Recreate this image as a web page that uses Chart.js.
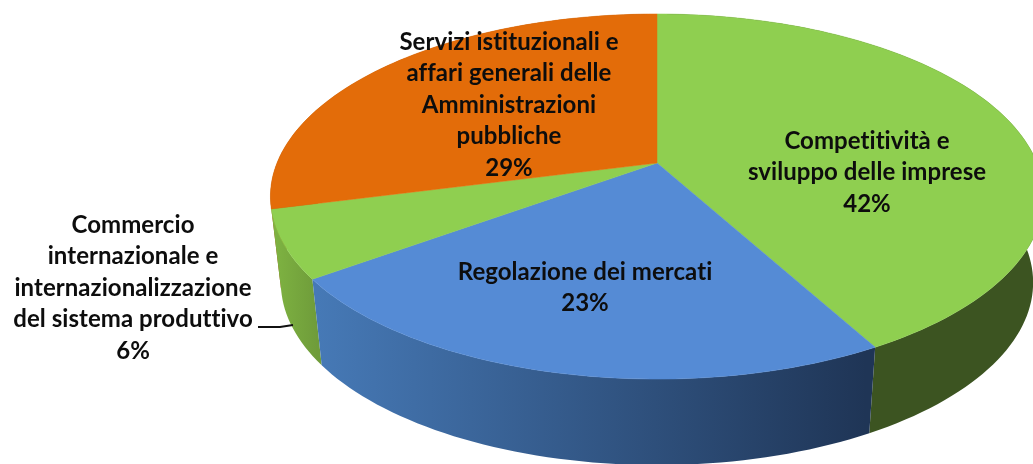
<!DOCTYPE html>
<html><head><meta charset="utf-8">
<style>html,body{margin:0;padding:0;background:#fff;overflow:hidden}canvas{display:block}</style>
<script src="https://cdn.jsdelivr.net/npm/chart.js@4/dist/chart.umd.min.js"></script>
</head><body><canvas id="c" width="1033" height="464"></canvas>
<script>
const categories = [
  "Competitività e sviluppo delle imprese",
  "Regolazione dei mercati",
  "Commercio internazionale e internazionalizzazione del sistema produttivo",
  "Servizi istituzionali e affari generali delle Amministrazioni pubbliche"
];
const values = [42, 23, 6, 29];
const labelLines = [
  ["Competitività e", "sviluppo delle imprese"],
  ["Regolazione dei mercati"],
  ["Commercio", "internazionale e", "internazionalizzazione", "del sistema produttivo"],
  ["Servizi istituzionali e", "affari generali delle", "Amministrazioni", "pubbliche"]
];
const topColors = ["#8FCF50", "#558BD5", "#8FCF50", "#E36C09"];
const sideStops = [["#3C5421", "#3C5421"], ["#4679B6", "#1F3556"], ["#7FB442", "#6F9C3A"], ["#A04D06", "#A04D06"]];
const sideRange = [[860, 1033], [317, 866], [272, 317], [270, 657]];
const labelAnchors = [[867, 141], [585, 272], [133, 225], [509, 42]];
const LINE_H = 31.5;

// perspective view of the pie's plane
const view = {cx: 657, cy: 163, sx: 380, sy: 176.4, k: 0.1836, depth: 86, shrink: 0.973};
function project(a, lower) {
  const x = Math.cos(a), y = Math.sin(a), w = 1 - view.k * y;
  let X = view.cx + view.sx * x / w, Y = view.cy + view.sy * y / w;
  if (lower) { X = view.cx + (X - view.cx) * view.shrink; Y = Y + view.depth; }
  return [X, Y];
}
function rim(a0, a1) {
  const n = Math.max(2, Math.ceil(Math.abs(a1 - a0) * 120 / Math.PI)), out = [];
  for (let i = 0; i <= n; i++) out.push(a0 + (a1 - a0) * i / n);
  return out;
}
const pie3d = {
  id: 'pie3d',
  beforeDatasetsDraw(chart) {
    const ctx = chart.ctx, arcs = chart.getDatasetMeta(0).data;
    [3, 0, 2, 1].forEach(i => {
      const el = arcs[i], as = rim(el.startAngle, el.endAngle);
      const g = ctx.createLinearGradient(sideRange[i][0], 0, sideRange[i][1], 0);
      g.addColorStop(0, sideStops[i][0]); g.addColorStop(1, sideStops[i][1]);
      ctx.beginPath();
      as.forEach((a, j) => { const p = project(a, false); j ? ctx.lineTo(p[0], p[1]) : ctx.moveTo(p[0], p[1]); });
      as.slice().reverse().forEach(a => { const p = project(a, true); ctx.lineTo(p[0], p[1]); });
      ctx.closePath(); ctx.fillStyle = g; ctx.fill();
    });
    arcs.forEach(el => {
      ctx.beginPath(); ctx.moveTo(view.cx, view.cy);
      rim(el.startAngle, el.endAngle).forEach(a => { const p = project(a, false); ctx.lineTo(p[0], p[1]); });
      ctx.closePath(); ctx.fillStyle = el.options.backgroundColor; ctx.fill();
      ctx.strokeStyle = el.options.backgroundColor; ctx.lineWidth = 0.5; ctx.stroke();
    });
    return false;
  },
  afterDraw(chart) {
    const ctx = chart.ctx;
    ctx.save();
    ctx.beginPath(); ctx.moveTo(258, 327); ctx.lineTo(280, 327); ctx.lineTo(293, 325);
    ctx.strokeStyle = "#111"; ctx.lineWidth = 2; ctx.stroke();
    ctx.fillStyle = "#0d0d0d";
    ctx.font = "bold 24px Lato";
    ctx.letterSpacing = "0.05px";
    ctx.textAlign = "center"; ctx.textBaseline = "middle";
    labelLines.forEach((lines, i) => {
      const [x, y] = labelAnchors[i];
      lines.concat(values[i] + "%").forEach((t, j) => ctx.fillText(t, x, y + j * LINE_H));
    });
    ctx.restore();
  }
};
new Chart(document.getElementById('c'), {
  type: 'pie',
  data: {labels: categories, datasets: [{data: values, backgroundColor: topColors, borderWidth: 0}]},
  options: {responsive: false, animation: false, layout: {padding: 0},
    plugins: {legend: {display: false}, tooltip: {enabled: false}}},
  plugins: [pie3d]
});
</script></body></html>
